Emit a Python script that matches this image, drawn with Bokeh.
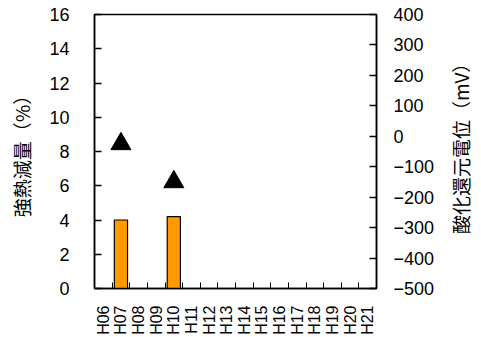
import math
from bokeh.plotting import figure
from bokeh.layouts import row
from bokeh.models import (Range1d, LinearAxis, FixedTicker, ColumnDataSource)
from bokeh.core.properties import value
from bokeh.embed import file_html
from bokeh.resources import INLINE

# ---- data ----
categories = ["H06", "H07", "H08", "H09", "H10", "H11", "H12", "H13",
              "H14", "H15", "H16", "H17", "H18", "H19", "H20", "H21"]
loi_cats = ["H07", "H10"]
loi_values = [4.0, 4.2]          # 強熱減量 (%)
orp_cats = ["H07", "H10"]
orp_values = [-25, -150]         # 酸化還元電位 (mV)
left_ticks = [0, 2, 4, 6, 8, 10, 12, 14, 16]
right_ticks = [-500, -400, -300, -200, -100, 0, 100, 200, 300, 400]
right_tick_labels = ["\u2212500", "\u2212400", "\u2212300", "\u2212200", "\u2212100",
                     "0", "100", "200", "300", "400"]
left_title = "強熱減量（%）"
right_title = "酸化還元電位（mV）"

NUM_FONT = "Liberation Sans"
CJK_FONT = "Noto Sans CJK JP"

p = figure(width=445, height=337, output_backend="svg", toolbar_location=None,
           x_range=Range1d(-0.5, len(categories) - 0.5), y_range=Range1d(0, 16),
           min_border_left=94, min_border_right=69, min_border_top=14, min_border_bottom=49,
           x_axis_location=None, y_axis_location=None)
p.extra_y_ranges = {"orp": Range1d(-500, 400)}
p.grid.visible = False
p.outline_line_color = "black"
p.outline_line_width = 1.5
p.background_fill_color = "white"
p.border_fill_color = "white"

# x axis (categories; boundary ticks as minor ticks)
idx = {c: i for i, c in enumerate(categories)}
xaxis = LinearAxis(
    ticker=FixedTicker(ticks=list(range(len(categories))),
                       minor_ticks=[i + 0.5 for i in range(len(categories) - 1)]),
    major_label_overrides={i: c for i, c in enumerate(categories)},
    major_label_orientation=math.pi / 2,
    major_tick_in=0, major_tick_out=0,
    minor_tick_in=6, minor_tick_out=0,
    major_label_standoff=17,
    major_label_text_font=NUM_FONT, major_label_text_font_size="16px",
    major_label_text_color="black",
    axis_line_color="black", axis_line_width=1.5,
    minor_tick_line_color="black", minor_tick_line_width=1,
)
p.add_layout(xaxis, "below")

# left axis
laxis = LinearAxis(
    ticker=FixedTicker(ticks=left_ticks, minor_ticks=[]),
    axis_label=left_title,
    axis_label_text_font=CJK_FONT, axis_label_text_font_size="19px",
    axis_label_text_font_style="normal", axis_label_text_color="black",
    axis_label_standoff=11,
    major_tick_in=7, major_tick_out=0,
    major_label_standoff=25,
    major_label_text_font=NUM_FONT, major_label_text_font_size="18px",
    major_label_text_color="black",
    axis_line_color="black", axis_line_width=1.5,
    major_tick_line_color="black", major_tick_line_width=1.5,
)
p.add_layout(laxis, "left")

# right axis
raxis = LinearAxis(
    y_range_name="orp",
    ticker=FixedTicker(ticks=right_ticks, minor_ticks=[]),
    major_label_overrides={t: l for t, l in zip(right_ticks, right_tick_labels)},
    major_tick_in=7, major_tick_out=0,
    major_label_standoff=17,
    major_label_text_font=NUM_FONT, major_label_text_font_size="18px",
    major_label_text_color="black",
    axis_line_color="black", axis_line_width=1.5,
    major_tick_line_color="black", major_tick_line_width=1.5,
)
p.add_layout(raxis, "right")

bars = ColumnDataSource(dict(x=[idx[c] for c in loi_cats], top=loi_values))
p.vbar(x="x", top="top", bottom=0, width=0.75, source=bars,
       fill_color="#FF9900", line_color="black", line_width=1.2)

pts = ColumnDataSource(dict(x=[idx[c] for c in orp_cats], y=orp_values))
p.scatter(x="x", y="y", source=pts, marker="triangle", size=20,
          fill_color="black", line_color="black", y_range_name="orp")

# right axis title (reads bottom-to-top) in a narrow side panel
p2 = figure(width=36, height=337, output_backend="svg", toolbar_location=None,
            x_range=Range1d(0, 1), y_range=Range1d(0, 1),
            min_border_left=0, min_border_right=0, min_border_top=0, min_border_bottom=0,
            x_axis_location=None, y_axis_location=None)
p2.grid.visible = False
p2.outline_line_color = None
p2.text(x=[0.42], y=[0.528], text=[right_title], angle=math.pi / 2,
        text_align="center", text_baseline="middle",
        text_font=value(CJK_FONT), text_font_size="19px", text_color="black")

layout = row(p, p2, spacing=0)
open("out.html", "w").write(file_html(layout, INLINE))
